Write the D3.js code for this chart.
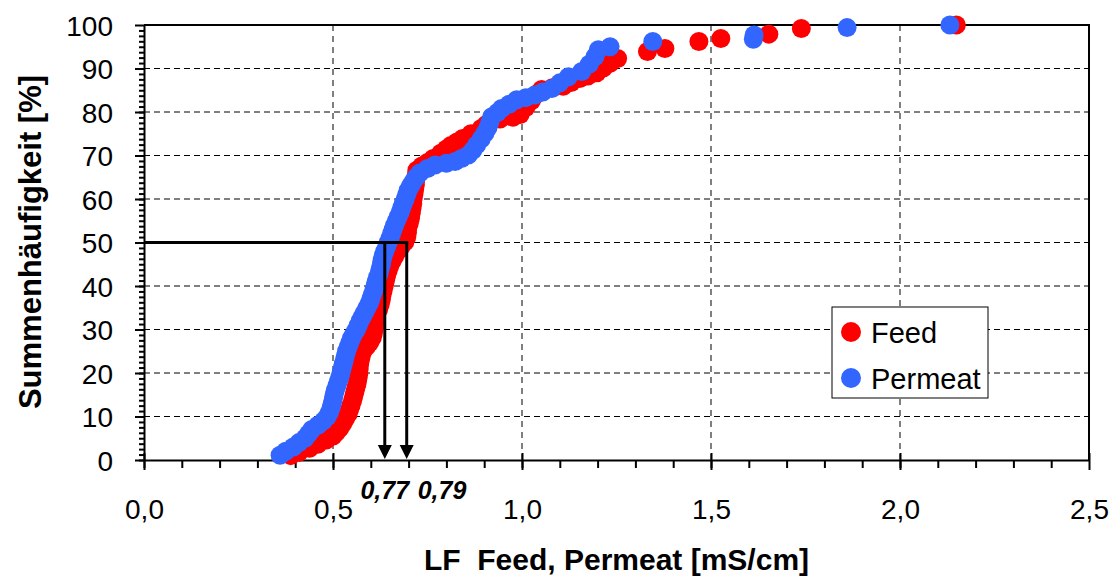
<!DOCTYPE html>
<html>
<head>
<meta charset="utf-8">
<script src="https://cdn.jsdelivr.net/npm/d3@7"></script>
<style>
    body { margin: 0; background: #fff; }
    svg { display: block; font-family: 'Liberation Sans', Arial, sans-serif; }
</style>
</head>
<body>
<svg id="chart" width="1114" height="577"></svg>
<script>
// Feed: conductivity [mS/cm] and cumulative frequency [%]
let feedX = [0.388, 0.410, 0.438, 0.460, 0.482, 0.500, 0.509, 0.518, 0.526, 0.533,
             0.540, 0.544, 0.548, 0.552, 0.555, 0.558, 0.561, 0.564, 0.566, 0.568,
             0.569, 0.570, 0.572, 0.575, 0.579, 0.588, 0.597, 0.604, 0.607, 0.609,
             0.610, 0.612, 0.616, 0.621, 0.625, 0.628, 0.630, 0.633, 0.636, 0.639,
             0.642, 0.646, 0.650, 0.656, 0.663, 0.670, 0.680, 0.690, 0.695, 0.697,
             0.698, 0.702, 0.705, 0.707, 0.709, 0.711, 0.712, 0.714, 0.716, 0.718,
             0.719, 0.720, 0.722, 0.735, 0.750, 0.765, 0.785, 0.800, 0.812, 0.828,
             0.843, 0.865, 0.892, 0.905, 0.918, 0.942, 0.976, 0.995, 1.010, 1.025,
             1.040, 1.052, 1.080, 1.109, 1.130, 1.153, 1.175, 1.198, 1.215, 1.233,
             1.253, 1.332, 1.378, 1.468, 1.526, 1.653, 1.739, 2.149]
let feedP = [1.0, 1.8, 2.7, 3.6, 4.6, 5.5, 6.4, 7.3, 8.4, 9.5,
             10.6, 11.6, 12.6, 13.7, 14.7, 15.7, 16.7, 17.7, 18.7, 19.7,
             20.8, 21.8, 22.8, 23.9, 25.0, 26.0, 27.0, 28.1, 29.2, 30.3,
             31.4, 32.5, 33.6, 34.7, 35.8, 36.9, 38.0, 39.1, 40.2, 41.3,
             42.4, 43.5, 44.6, 45.7, 46.8, 47.9, 49.0, 50.1, 51.2, 52.3,
             53.4, 54.5, 55.6, 56.7, 57.8, 58.9, 60.0, 61.1, 62.2, 63.3,
             64.4, 65.5, 66.6, 67.6, 68.4, 69.3, 70.5, 71.5, 72.3, 73.1,
             73.9, 75.0, 76.2, 77.1, 78.0, 78.4, 78.8, 79.4, 81.0, 82.6,
             84.2, 85.2, 85.6, 85.9, 86.8, 87.7, 88.3, 89.0, 90.1, 91.2,
             92.3, 93.9, 94.6, 96.2, 96.9, 97.9, 99.2, 100]
// Permeat: conductivity [mS/cm] and cumulative frequency [%]
let permX = [0.360, 0.375, 0.395, 0.410, 0.426, 0.435, 0.444, 0.460, 0.475, 0.485,
             0.491, 0.495, 0.498, 0.501, 0.503, 0.506, 0.510, 0.514, 0.518, 0.521,
             0.524, 0.527, 0.530, 0.533, 0.536, 0.540, 0.545, 0.549, 0.555, 0.562,
             0.567, 0.572, 0.578, 0.584, 0.590, 0.596, 0.600, 0.604, 0.608, 0.611,
             0.614, 0.618, 0.622, 0.625, 0.628, 0.630, 0.633, 0.637, 0.642, 0.646,
             0.651, 0.655, 0.659, 0.663, 0.668, 0.673, 0.678, 0.682, 0.686, 0.691,
             0.695, 0.699, 0.705, 0.712, 0.720, 0.730, 0.750, 0.770, 0.800, 0.823,
             0.840, 0.858, 0.870, 0.880, 0.892, 0.902, 0.910, 0.915, 0.920, 0.935,
             0.946, 0.966, 0.986, 1.010, 1.034, 1.055, 1.079, 1.100, 1.123, 1.158,
             1.178, 1.193, 1.202, 1.233, 1.346, 1.612, 1.614, 1.860, 2.132]
let permP = [1.1, 2.0, 3.0, 4.0, 5.0, 6.0, 7.0, 8.0, 9.0, 10.0,
             11.0, 12.0, 13.0, 14.0, 15.0, 16.0, 17.0, 18.0, 19.0, 20.0,
             21.0, 22.0, 23.0, 24.0, 25.0, 26.0, 27.0, 28.0, 29.0, 30.0,
             31.0, 32.0, 33.0, 34.0, 35.0, 36.0, 37.0, 38.0, 39.0, 40.0,
             41.0, 42.0, 43.0, 44.0, 45.0, 46.0, 47.0, 48.0, 49.0, 50.0,
             51.0, 52.0, 53.0, 54.0, 55.0, 56.0, 57.0, 58.0, 59.0, 60.0,
             61.0, 62.0, 63.0, 64.0, 65.0, 66.0, 67.0, 67.8, 68.2, 68.6,
             69.3, 70.1, 71.2, 72.4, 73.8, 75.1, 76.4, 77.6, 78.9, 79.9,
             80.8, 81.8, 82.8, 83.3, 83.9, 84.6, 85.4, 86.7, 88.1, 89.3,
             91.0, 92.7, 94.3, 95.0, 96.2, 96.7, 97.7, 99.4, 100]

let seriesNames = ['Feed', 'Permeat']
let seriesColors = ['#ff0000', '#3366ff']
let xTicks = [0, 0.5, 1.0, 1.5, 2.0, 2.5]
let yTicks = [0, 10, 20, 30, 40, 50, 60, 70, 80, 90, 100]
let medianLevel = 50
let medianX = [0.637, 0.695]
let medianLabels = ['0,77', '0,79']

let svg = d3.select('#chart')
let xScale = d3.scaleLinear().domain([0, 2.5]).range([144, 1089])
let yScale = d3.scaleLinear().domain([0, 100]).range([460, 25])
let comma = d => d.toFixed(1).replace('.', ',')

//grid lines
svg.append('g')
    .selectAll('line')
    .data(yTicks.slice(1, -1))
    .enter()
    .append('line')
    .attr('x1', xScale(0))
    .attr('x2', xScale(2.5))
    .attr('y1', d => yScale(d))
    .attr('y2', d => yScale(d))
    .attr('stroke', '#000')
    .attr('stroke-dasharray', '6,4')
svg.append('g')
    .selectAll('line')
    .data(xTicks.slice(1, -1))
    .enter()
    .append('line')
    .attr('x1', d => xScale(d))
    .attr('x2', d => xScale(d))
    .attr('y1', yScale(0))
    .attr('y2', yScale(100))
    .attr('stroke', '#000')
    .attr('stroke-dasharray', '6,5')

//frame top and right
svg.append('path')
    .attr('d', `M${xScale(0)},${yScale(100)}H${xScale(2.5)}V${yScale(0)}`)
    .attr('fill', 'none')
    .attr('stroke', '#000')
    .attr('stroke-width', 2)

//minor ticks
svg.append('g')
    .attr('transform', `translate(${xScale(0)}, 0)`)
    .call(d3.axisLeft(yScale).tickValues(d3.range(0, 100, 1.25)).tickSize(5).tickFormat(''))
    .call(g => g.select('.domain').remove())
svg.append('g')
    .attr('transform', `translate(0, ${yScale(0)})`)
    .call(d3.axisBottom(xScale).tickValues(d3.range(0, 25).map(d => d / 10)).tickSize(8).tickFormat(''))
    .call(g => g.select('.domain').remove())

//y axis
let yAxis = svg.append('g')
    .attr('transform', `translate(${xScale(0)}, 0)`)
    .call(d3.axisLeft(yScale).tickValues(yTicks).tickSize(9).tickSizeOuter(0).tickPadding(22))
yAxis.selectAll('text')
    .style('font-size', '28px')
    .style('font-family', "'Liberation Sans', Arial, sans-serif")
    .attr('fill', '#000')
    .attr('dy', '0.36em')

//x axis
let xAxis = svg.append('g')
    .attr('transform', `translate(0, ${yScale(0)})`)
    .call(d3.axisBottom(xScale).tickValues(xTicks).tickSize(10).tickSizeOuter(0).tickPadding(29).tickFormat(comma))
xAxis.selectAll('.tick line').attr('y1', -7)
xAxis.selectAll('text')
    .style('font-size', '28px')
    .style('font-family', "'Liberation Sans', Arial, sans-serif")
    .attr('fill', '#000')
svg.selectAll('.domain, .tick line')
    .attr('stroke', '#000')
    .attr('stroke-width', 2)

//data points
let series = [
    feedX.map((d, i) => [d, feedP[i]]),
    permX.map((d, i) => [d, permP[i]])
]
series.forEach(function (pts, k) {
    svg.append('g')
        .selectAll('circle')
        .data(pts)
        .enter()
        .append('circle')
        .attr('cx', d => xScale(d[0]))
        .attr('cy', d => yScale(d[1]))
        .attr('r', 9.5)
        .style('fill', seriesColors[k])
})

//median lines and arrows
svg.append('line')
    .attr('x1', xScale(0))
    .attr('x2', xScale(medianX[1]) + 1.5)
    .attr('y1', yScale(medianLevel))
    .attr('y2', yScale(medianLevel))
    .attr('stroke', '#000')
    .attr('stroke-width', 3)
let arrows = svg.append('g')
    .selectAll('g')
    .data(medianX)
    .enter()
    .append('g')
    .attr('transform', d => `translate(${xScale(d)}, 0)`)
arrows.append('line')
    .attr('y1', yScale(medianLevel))
    .attr('y2', yScale(0) - 12)
    .attr('stroke', '#000')
    .attr('stroke-width', 3)
arrows.append('path')
    .attr('d', `M-7,${yScale(0) - 15}H7L0,${yScale(0) - 1}Z`)
    .attr('fill', '#000')
svg.append('text')
    .attr('x', xScale(medianX[0]))
    .attr('y', 499)
    .attr('text-anchor', 'middle')
    .text(medianLabels[0])
    .style('font-size', '25px')
    .style('font-weight', 'bold')
    .style('font-style', 'italic')
svg.append('text')
    .attr('x', xScale(medianX[1]) + 11)
    .attr('y', 499)
    .text(medianLabels[1])
    .style('font-size', '25px')
    .style('font-weight', 'bold')
    .style('font-style', 'italic')

//axis titles
svg.append('text')
    .attr('x', (xScale(0) + xScale(2.5)) / 2)
    .attr('y', 570)
    .attr('text-anchor', 'middle')
    .style('font-size', '30px')
    .style('font-weight', 'bold')
    .style('white-space', 'pre')
    .text('LF  Feed, Permeat [mS/cm]')
svg.append('g')
    .attr('transform', `translate(${41}, ${242}) rotate(270)`)
    .append('text')
    .attr('text-anchor', 'middle')
    .style('font-size', '31px')
    .style('font-weight', 'bold')
    .text('Summenhäufigkeit [%]')

//legend
let legend = svg.append('g')
legend.append('rect')
    .attr('x', 832)
    .attr('y', 307)
    .attr('width', 156)
    .attr('height', 91)
    .attr('fill', '#fff')
    .attr('stroke', '#000')
    .attr('stroke-width', 1)
seriesNames.forEach(function (name, i) {
    legend.append('circle')
        .attr('cx', 851)
        .attr('cy', 332 + i * 46)
        .attr('r', 10)
        .style('fill', seriesColors[i])
    legend.append('text')
        .attr('x', 871)
        .attr('y', 343 + i * 46)
        .text(name)
        .style('font-size', '29px')
})
</script>
</body>
</html>
